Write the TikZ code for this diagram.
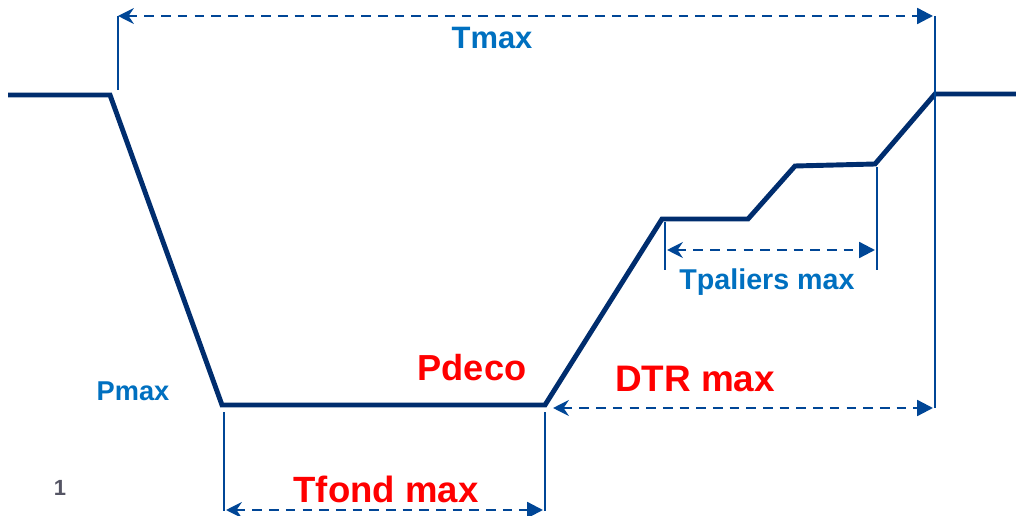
\documentclass[tikz,border=0pt]{standalone}
\usepackage{fontspec}
\setmainfont{Liberation Sans}
\usetikzlibrary{arrows.meta}
\definecolor{profil}{RGB}{0,45,110}
\definecolor{cote}{RGB}{0,70,150}
\definecolor{bleu}{RGB}{0,112,192}
\definecolor{gris}{RGB}{85,85,100}
\begin{document}
\begin{tikzpicture}[x=0.02cm, y=-0.02cm,
        profil/.style={draw=profil, line width=2.8pt},
        repere/.style={draw=cote, line width=0.9pt},
        cote/.style={draw=cote, line width=1.3pt, dash pattern=on 5.5pt off 4pt,
            {Stealth[length=9pt,width=9pt,inset=3pt,sep=0pt]}-{Triangle[length=9pt,width=9pt]}},
        bleutxt/.style={text=bleu, font=\bfseries, inner sep=0pt},
        rougetxt/.style={text=red, font=\bfseries, inner sep=0pt}]
    \useasboundingbox (0,0) rectangle (1016,516);
    % profil de plongee
    \coordinate (surf) at (8,95);
    \coordinate (desc) at (110,95);
    \coordinate (fond1) at (222,405);
    \coordinate (fond2) at (545,405);
    \coordinate (pal1a) at (662,219);
    \coordinate (pal1b) at (748,219);
    \coordinate (pal2a) at (795,166);
    \coordinate (pal2b) at (875,164);
    \coordinate (sortie) at (935,94);
    \coordinate (fin) at (1016,94);
    \draw[profil] (surf) -- (desc) -- (fond1) -- (fond2) -- (pal1a) -- (pal1b)
        -- (pal2a) -- (pal2b) -- (sortie) -- (fin);
    % Tmax
    \coordinate (tmaxA) at (118,16);
    \coordinate (tmaxB) at (935,16);
    \draw[repere] (tmaxA) -- (118,90);
    \draw[repere] (tmaxB) -- (935,408);
    \draw[cote] (tmaxA) -- (933,16);
    \node[bleutxt, font=\fontsize{17.6}{20}\bfseries] (tmax) at (492,38) {Tmax};
    % Tpaliers max
    \draw[repere] (665,222) -- (665,270);
    \draw[repere] (877,167) -- (877,270);
    \draw[cote] (667,250) -- (875,250);
    \node[bleutxt, font=\fontsize{16.3}{19}\bfseries] (tpal) at (767,282) {Tpaliers max};
    % Tfond max
    \coordinate (tfondA) at (224,511);
    \coordinate (tfondB) at (545,511);
    \draw[repere] (224,412) -- (tfondA);
    \draw[repere] (545,412) -- (tfondB);
    \draw[cote] (226,510) -- (543,510);
    \node[rougetxt, font=\fontsize{20.8}{24}\bfseries] (tfond) at (386,489) {Tfond max};
    % DTR max
    \draw[cote] (553,408) -- (933,408);
    \node[rougetxt, font=\fontsize{21}{24}\bfseries] (dtr) at (695,379) {DTR max};
    % autres textes
    \node[rougetxt, font=\fontsize{20.6}{24}\bfseries] (pdeco) at (472,368) {Pdeco};
    \node[bleutxt, font=\fontsize{15.5}{18}\bfseries] (pmax) at (133,391) {Pmax};
    \node[text=gris, font=\fontsize{12.5}{15}\bfseries, inner sep=0pt] (num) at (60,488) {1};
\end{tikzpicture}
\end{document}
